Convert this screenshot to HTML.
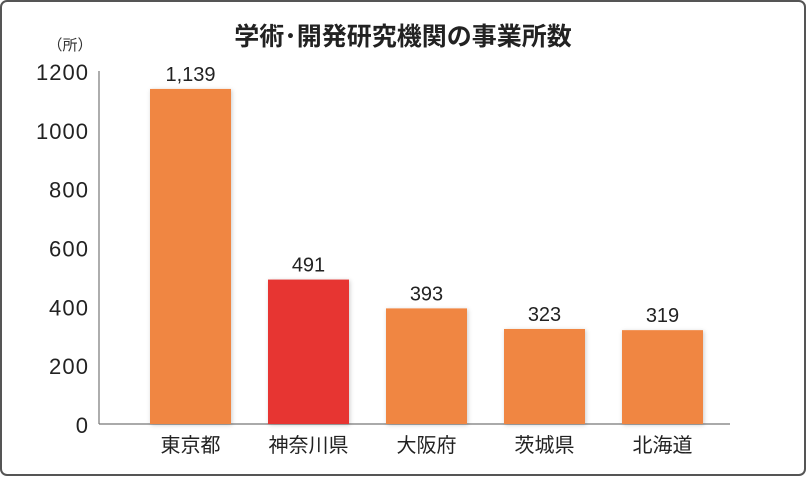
<!DOCTYPE html>
<html><head><meta charset="utf-8"><style>
body{margin:0;background:#fff;}
svg text{font-family:"Liberation Sans","Noto Sans CJK JP",sans-serif;}
</style></head><body>
<svg width="806" height="476">
<defs><filter id="sh" x="-20%" y="-20%" width="140%" height="140%"><feDropShadow dx="1" dy="1" stdDeviation="2" flood-color="#000" flood-opacity="0.2"/></filter></defs>
<rect x="1" y="1" width="804" height="474" rx="6" fill="#fff" stroke="#555" stroke-width="2"/>
<text x="403" y="45" text-anchor="middle" font-size="25" font-weight="bold" fill="#222">学術･開発研究機関の事業所数</text>
<text x="70" y="50" text-anchor="middle" font-size="15" fill="#333">（所）</text>
<line x1="99" y1="71" x2="99" y2="424" stroke="#777" stroke-width="1.2"/>
<line x1="99" y1="424" x2="730" y2="424" stroke="#777" stroke-width="1.2"/>
<g id="ticks"></g><g id="bars"></g>
</svg>
<script>
const categories=["東京都","神奈川県","大阪府","茨城県","北海道"];
const values=[1139,491,393,323,319];
const tickValues=[0,200,400,600,800,1000,1200];
const valueLabels=["1,139","491","393","323","319"];
const y=v=>424-v*(353/1200);
const x=i=>150+i*118;
const ns="http://www.w3.org/2000/svg";
const tg=document.getElementById('ticks'),bg=document.getElementById('bars');
tickValues.forEach(t=>{const e=document.createElementNS(ns,'text');


e.setAttribute('x',88);e.setAttribute('y',y(t)+9);e.setAttribute('text-anchor','end');e.setAttribute('font-size','22');e.setAttribute('fill','#222');e.setAttribute('textLength',t>=1000?52:(t>0?39:13));e.textContent=t;tg.appendChild(e);});
categories.forEach((c,i)=>{
const r=document.createElementNS(ns,'rect');


r.setAttribute('x',x(i));r.setAttribute('y',y(values[i]));r.setAttribute('width',81);r.setAttribute('height',424-y(values[i]));r.setAttribute('fill',i==1?'#e73530':'#f08643');r.setAttribute('filter','url(#sh)');bg.appendChild(r);
const v=document.createElementNS(ns,'text');


v.setAttribute('x',x(i)+40.5);v.setAttribute('y',y(values[i])-8);v.setAttribute('text-anchor','middle');v.setAttribute('font-size','20');v.setAttribute('fill','#222');v.textContent=valueLabels[i];bg.appendChild(v);
const l=document.createElementNS(ns,'text');


l.setAttribute('x',x(i)+40.5);l.setAttribute('y',452);l.setAttribute('text-anchor','middle');l.setAttribute('font-size','20');l.setAttribute('fill','#222');l.textContent=c;bg.appendChild(l);});
</script>
</body></html>
